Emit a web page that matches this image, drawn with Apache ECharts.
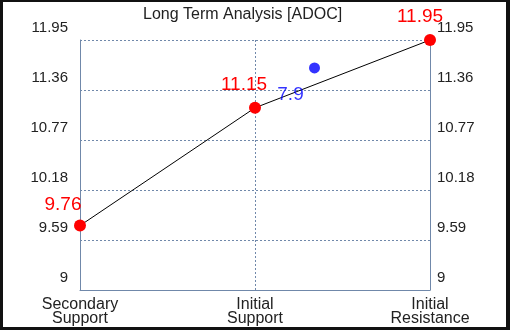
<!DOCTYPE html>
<html>
<head>
<meta charset="utf-8">
<script src="https://cdn.jsdelivr.net/npm/echarts@6/dist/echarts.min.js"></script>
<style>
html,body{margin:0;padding:0;background:#111;width:510px;height:330px;overflow:hidden;}
#c{position:absolute;left:3px;top:2px;width:503px;height:325px;background:#fff;}
</style>
</head>
<body>
<div id="c"></div>
<script>
const titleText = 'Long Term Analysis [ADOC]';
const categories = ['Secondary\nSupport', 'Initial\nSupport', 'Initial\nResistance'];
const levelValues = [9.76, 11.15, 11.95];
const levelLabels = ['9.76', '11.15', '11.95'];
const currentPoint = [1.34, 11.62];
const currentLabel = '7.9';
const yTickLabels = ['9', '9.59', '10.18', '10.77', '11.36', '11.95'];
const yMin = 9, yMax = 11.95, yStep = 0.59;

const labelOffsets = [[-17, -21], [-11, -23], [-10, -23]];
const axisColor = '#7088aa';
const ff = 'Liberation Sans, Arial, sans-serif';

const fmt = v => {
  const i = Math.round((v - yMin) / yStep);
  return yTickLabels[i] !== undefined ? yTickLabels[i] : '';
};

const chart = echarts.init(document.getElementById('c'), null, {renderer: 'canvas'});
const yAxisCommon = {
  type: 'value', min: yMin, max: yMax, interval: yStep,
  axisLine: {show: true, lineStyle: {color: axisColor, width: 1}},
  axisTick: {show: false},
};
chart.setOption({
  animation: false,
  title: {
    text: titleText, left: 140, top: 0, padding: [5, 0, 5, 0],
    textStyle: {fontFamily: ff, fontSize: 16, fontWeight: 'normal', color: '#222'}
  },
  grid: {left: 77, top: 38, right: 76, bottom: 37},
  xAxis: [{
    type: 'category', data: categories, boundaryGap: false,
    axisLine: {show: true, lineStyle: {color: axisColor}},
    axisTick: {show: false},
    splitLine: {show: true, lineStyle: {color: axisColor, type: [2, 2], width: 1}},
    axisLabel: {fontFamily: ff, fontSize: 16, lineHeight: 14, color: '#222', margin: 8, interval: 0}
  }, {
    type: 'value', min: 0, max: 2, show: false
  }],
  yAxis: [Object.assign({}, yAxisCommon, {
    position: 'left',
    splitLine: {show: true, lineStyle: {color: axisColor, type: [2, 2], width: 1}},
    axisLabel: {formatter: fmt, fontFamily: ff, fontSize: 15, lineHeight: 15, color: '#222', margin: 12, verticalAlign: 'bottom', padding: [0, 0, 5, 0]}
  }), Object.assign({}, yAxisCommon, {
    position: 'right',
    splitLine: {show: false},
    axisLabel: {formatter: fmt, fontFamily: ff, fontSize: 15, lineHeight: 15, color: '#222', margin: 7, verticalAlign: 'bottom', padding: [0, 0, 5, 0]}
  })],
  series: [{
    type: 'line', xAxisIndex: 0, yAxisIndex: 0,
    data: levelValues.map((v, i) => ({
      value: v,
      label: {show: true, position: 'inside', offset: labelOffsets[i], formatter: levelLabels[i]}
    })),
    symbol: 'circle', symbolSize: 12,
    itemStyle: {color: '#ff0000'},
    lineStyle: {color: '#000', width: 1},
    label: {fontFamily: ff, fontSize: 19, color: '#ff0000'},
    z: 3
  }, {
    type: 'scatter', xAxisIndex: 1, yAxisIndex: 0,
    data: [currentPoint],
    symbol: 'circle', symbolSize: 11,
    itemStyle: {color: '#0000ff'},
    label: {show: true, position: 'inside', offset: [-24, 27], formatter: currentLabel,
      fontFamily: ff, fontSize: 19, color: '#0000ff'},
    z: 4
  }]
});
</script>
</body>
</html>
